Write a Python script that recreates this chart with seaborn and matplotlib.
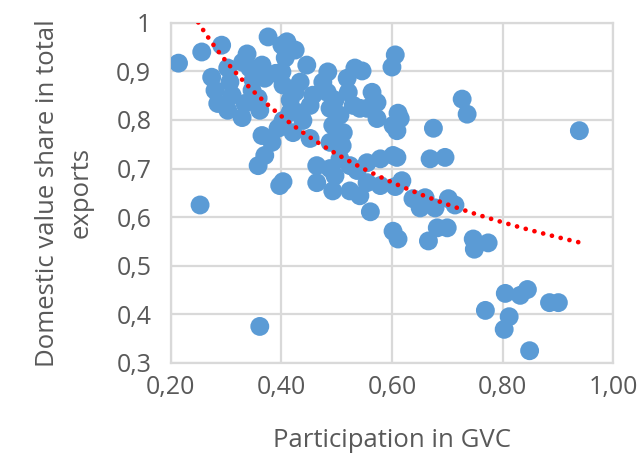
import numpy as np
import pandas as pd
import matplotlib
matplotlib.use('Agg')
import matplotlib.pyplot as plt
import seaborn as sns
from matplotlib.ticker import FuncFormatter

# participation in GVC (x) and domestic value share (y)
gvc = [0.214, 0.256, 0.292, 0.376, 0.338, 0.330, 0.274, 0.280, 0.285, 0.303,
       0.307, 0.311, 0.303, 0.329, 0.334, 0.365, 0.370, 0.347, 0.358, 0.361,
       0.401, 0.407, 0.401, 0.425, 0.410, 0.446, 0.484, 0.533, 0.546, 0.600,
       0.606, 0.434, 0.425, 0.475, 0.483, 0.519, 0.521, 0.564, 0.573, 0.457,
       0.452, 0.530, 0.542, 0.611, 0.615, 0.609, 0.675, 0.727, 0.736, 0.390,
       0.403, 0.416, 0.428, 0.403, 0.421, 0.452, 0.488, 0.506, 0.493, 0.512,
       0.488, 0.510, 0.555, 0.573, 0.602, 0.365, 0.383, 0.370, 0.358, 0.397,
       0.403, 0.253, 0.361, 0.464, 0.464, 0.488, 0.497, 0.524, 0.555, 0.579,
       0.602, 0.493, 0.524, 0.555, 0.579, 0.542, 0.609, 0.669, 0.696, 0.618,
       0.606, 0.638, 0.660, 0.651, 0.678, 0.702, 0.714, 0.561, 0.602, 0.611,
       0.682, 0.700, 0.666, 0.747, 0.749, 0.774, 0.939, 0.805, 0.832, 0.845,
       0.885, 0.901, 0.769, 0.812, 0.803, 0.849, 0.394, 0.497, 0.506, 0.537,
       0.343, 0.349, 0.439, 0.416]
dva = [0.917, 0.940, 0.954, 0.971, 0.936, 0.919, 0.888, 0.861, 0.834, 0.907,
       0.878, 0.851, 0.820, 0.805, 0.834, 0.913, 0.886, 0.861, 0.845, 0.820,
       0.954, 0.928, 0.899, 0.944, 0.961, 0.913, 0.899, 0.907, 0.901, 0.909,
       0.934, 0.878, 0.857, 0.878, 0.857, 0.886, 0.857, 0.857, 0.836, 0.851,
       0.830, 0.830, 0.824, 0.814, 0.803, 0.778, 0.783, 0.843, 0.812, 0.896,
       0.872, 0.841, 0.816, 0.799, 0.774, 0.762, 0.824, 0.810, 0.789, 0.774,
       0.754, 0.747, 0.824, 0.803, 0.789, 0.768, 0.754, 0.727, 0.706, 0.665,
       0.673, 0.625, 0.375, 0.706, 0.671, 0.700, 0.685, 0.706, 0.712, 0.720,
       0.727, 0.654, 0.654, 0.671, 0.665, 0.644, 0.723, 0.720, 0.723, 0.675,
       0.663, 0.638, 0.640, 0.619, 0.619, 0.638, 0.625, 0.611, 0.571, 0.555,
       0.578, 0.578, 0.551, 0.555, 0.534, 0.547, 0.778, 0.443, 0.439, 0.451,
       0.424, 0.424, 0.408, 0.395, 0.369, 0.325, 0.783, 0.841, 0.720, 0.696,
       0.907, 0.882, 0.799, 0.816]

x_ticks = [0.2, 0.4, 0.6, 0.8, 1.0]
y_ticks = [0.3, 0.4, 0.5, 0.6, 0.7, 0.8, 0.9, 1.0]

df = pd.DataFrame({'gvc': gvc, 'dva': dva})

# power trendline, same as excel (fit in log-log space)
b, log_a = np.polyfit(np.log(df['gvc']), np.log(df['dva']), 1)
xt = np.linspace(df['gvc'].min(), df['gvc'].max(), 200)
trend = pd.DataFrame({'gvc': xt, 'dva': np.exp(log_a) * xt ** b})

sns.set_theme(style='white')
plt.rcParams['font.family'] = ['Open Sans', 'DejaVu Sans']

fig = plt.figure(figsize=(6.42, 4.57), dpi=100)
ax = fig.add_axes([0.266, 0.206, 0.689, 0.744])

grey = '#d9d9d9'
txt = '#595959'

sns.scatterplot(data=df, x='gvc', y='dva', ax=ax, s=185, color='#5b9bd5',
                edgecolor='none', linewidth=0, zorder=3)
sns.lineplot(data=trend, x='gvc', y='dva', ax=ax, color='#ff0000',
             linewidth=3.4, zorder=4)
ax.lines[-1].set_linestyle((0, (0.01, 1.9)))
ax.lines[-1].set_dash_capstyle('round')

ax.set_xlim(0.2, 1.0)
ax.set_ylim(0.3, 1.0)
ax.set_xticks(x_ticks)
ax.set_yticks(y_ticks)
ax.xaxis.set_major_formatter(FuncFormatter(lambda v, p: ('%.2f' % v).replace('.', ',')))
ax.yaxis.set_major_formatter(FuncFormatter(lambda v, p: '1' if abs(v - 1) < 1e-9 else ('%.1f' % v).replace('.', ',')))

ax.grid(True, color=grey, linewidth=1.6)
ax.set_axisbelow(True)
for sp in ax.spines.values():
    sp.set_color(grey)
    sp.set_linewidth(1.6)

ax.tick_params(axis='both', length=0, labelsize=18, labelcolor=txt)
ax.tick_params(axis='y', pad=14)
ax.tick_params(axis='x', pad=9)
ax.set_xlabel('Participation in GVC', fontsize=18.5, color=txt, labelpad=20)
ax.set_ylabel('Domestic value share in total\nexports', fontsize=18.5, color=txt,
              labelpad=16, linespacing=1.45)

fig.savefig('out.png', dpi=100)
